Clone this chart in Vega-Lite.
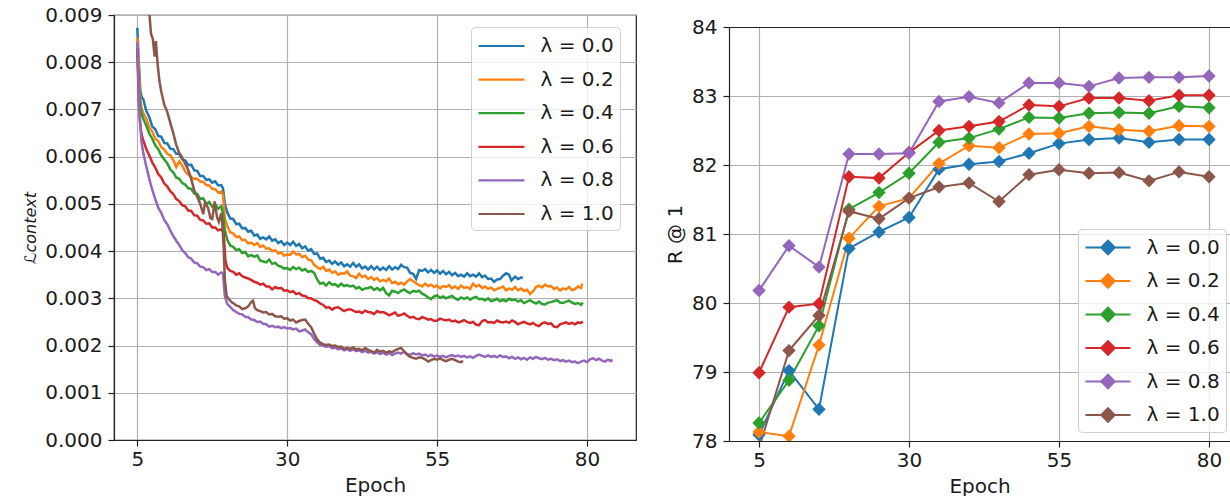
{
"$schema":"https://vega.github.io/schema/vega-lite/v6.json",
"padding":{"left":22,"top":4,"right":0,"bottom":0},
"config":{
"font":"DejaVu Sans",
"view":{"stroke":"#222","strokeWidth":1.2},
"concat":{"spacing":28},
"axis":{"labelFont":"DejaVu Sans","labelFontSize":20,"labelColor":"#1a1a1a","titleFont":"DejaVu Sans","titleFontSize":20,"titleFontWeight":"normal","titleColor":"#1a1a1a","tickColor":"#222","tickSize":6,"tickWidth":1.2,"domainColor":"#222","domainWidth":1.2,"gridColor":"#b0b0b0","gridWidth":1.2,"grid":true,"labelFlush":false,"labelOverlap":false,"titlePadding":6},
"axisX":{"labelPadding":3},
"axisY":{"labelPadding":6},
"legend":{"labelFont":"DejaVu Sans","labelFontSize":20,"labelColor":"#1a1a1a","fillColor":"rgba(255,255,255,0.8)","strokeColor":"#d0d0d0","cornerRadius":4,"padding":6}
},
"datasets":{
"loss":[
{"e":5,"v":0.00873,"s":"0.0"},{"e":5.25,"v":0.008,"s":"0.0"},{"e":5.5,"v":0.00742,"s":"0.0"},{"e":5.75,"v":0.00725,"s":"0.0"},{"e":6,"v":0.00722,"s":"0.0"},{"e":6.5,"v":0.00697,"s":"0.0"},{"e":7,"v":0.00684,"s":"0.0"},{"e":7.5,"v":0.00664,"s":"0.0"},{"e":8,"v":0.00658,"s":"0.0"},{"e":8.5,"v":0.00644,"s":"0.0"},{"e":9,"v":0.00642,"s":"0.0"},{"e":9.5,"v":0.00629,"s":"0.0"},{"e":10,"v":0.00628,"s":"0.0"},{"e":10.5,"v":0.00617,"s":"0.0"},{"e":11,"v":0.00616,"s":"0.0"},{"e":11.5,"v":0.00606,"s":"0.0"},{"e":12,"v":0.00606,"s":"0.0"},{"e":12.5,"v":0.00594,"s":"0.0"},{"e":13,"v":0.00592,"s":"0.0"},{"e":13.5,"v":0.00582,"s":"0.0"},{"e":14,"v":0.00583,"s":"0.0"},{"e":14.5,"v":0.00571,"s":"0.0"},{"e":15,"v":0.0057,"s":"0.0"},{"e":15.5,"v":0.00559,"s":"0.0"},{"e":16,"v":0.00559,"s":"0.0"},{"e":16.5,"v":0.00551,"s":"0.0"},{"e":17,"v":0.00552,"s":"0.0"},{"e":17.5,"v":0.00545,"s":"0.0"},{"e":18,"v":0.00548,"s":"0.0"},{"e":18.5,"v":0.00539,"s":"0.0"},{"e":19,"v":0.0054,"s":"0.0"},{"e":19.3,"v":0.00533,"s":"0.0"},{"e":19.6,"v":0.005,"s":"0.0"},{"e":20,"v":0.00482,"s":"0.0"},{"e":20.5,"v":0.00469,"s":"0.0"},{"e":21,"v":0.00468,"s":"0.0"},{"e":21.5,"v":0.00457,"s":"0.0"},{"e":22,"v":0.00458,"s":"0.0"},{"e":22.5,"v":0.00448,"s":"0.0"},{"e":23,"v":0.00449,"s":"0.0"},{"e":23.5,"v":0.00441,"s":"0.0"},{"e":24,"v":0.00443,"s":"0.0"},{"e":24.5,"v":0.00433,"s":"0.0"},{"e":25,"v":0.00435,"s":"0.0"},{"e":25.5,"v":0.00426,"s":"0.0"},{"e":26,"v":0.00429,"s":"0.0"},{"e":26.5,"v":0.00425,"s":"0.0"},{"e":27,"v":0.00431,"s":"0.0"},{"e":27.5,"v":0.00422,"s":"0.0"},{"e":28,"v":0.00425,"s":"0.0"},{"e":28.5,"v":0.00417,"s":"0.0"},{"e":29,"v":0.00421,"s":"0.0"},{"e":29.5,"v":0.00413,"s":"0.0"},{"e":30,"v":0.00418,"s":"0.0"},{"e":30.5,"v":0.00413,"s":"0.0"},{"e":31,"v":0.0042,"s":"0.0"},{"e":31.5,"v":0.00411,"s":"0.0"},{"e":32,"v":0.00415,"s":"0.0"},{"e":32.5,"v":0.00406,"s":"0.0"},{"e":33,"v":0.0041,"s":"0.0"},{"e":33.5,"v":0.00401,"s":"0.0"},{"e":34,"v":0.00404,"s":"0.0"},{"e":34.5,"v":0.00394,"s":"0.0"},{"e":35,"v":0.00395,"s":"0.0"},{"e":35.5,"v":0.00384,"s":"0.0"},{"e":36,"v":0.00386,"s":"0.0"},{"e":36.5,"v":0.00377,"s":"0.0"},{"e":37,"v":0.0038,"s":"0.0"},{"e":37.5,"v":0.00373,"s":"0.0"},{"e":38,"v":0.00378,"s":"0.0"},{"e":38.5,"v":0.00371,"s":"0.0"},{"e":39,"v":0.00376,"s":"0.0"},{"e":39.5,"v":0.00368,"s":"0.0"},{"e":40,"v":0.00372,"s":"0.0"},{"e":40.5,"v":0.00367,"s":"0.0"},{"e":41,"v":0.00375,"s":"0.0"},{"e":41.5,"v":0.00367,"s":"0.0"},{"e":42,"v":0.00372,"s":"0.0"},{"e":42.5,"v":0.00363,"s":"0.0"},{"e":43,"v":0.00367,"s":"0.0"},{"e":43.5,"v":0.00361,"s":"0.0"},{"e":44,"v":0.00368,"s":"0.0"},{"e":44.5,"v":0.00361,"s":"0.0"},{"e":45,"v":0.00367,"s":"0.0"},{"e":45.5,"v":0.0036,"s":"0.0"},{"e":46,"v":0.00365,"s":"0.0"},{"e":46.5,"v":0.0036,"s":"0.0"},{"e":47,"v":0.00368,"s":"0.0"},{"e":47.5,"v":0.00361,"s":"0.0"},{"e":48,"v":0.00366,"s":"0.0"},{"e":48.5,"v":0.00362,"s":"0.0"},{"e":49,"v":0.00371,"s":"0.0"},{"e":49.5,"v":0.00366,"s":"0.0"},{"e":50,"v":0.00365,"s":"0.0"},{"e":50.5,"v":0.00354,"s":"0.0"},{"e":51,"v":0.00352,"s":"0.0"},{"e":51.5,"v":0.00341,"s":"0.0"},{"e":52,"v":0.0036,"s":"0.0"},{"e":52.5,"v":0.00358,"s":"0.0"},{"e":53,"v":0.00362,"s":"0.0"},{"e":53.5,"v":0.00355,"s":"0.0"},{"e":54,"v":0.0036,"s":"0.0"},{"e":54.5,"v":0.00354,"s":"0.0"},{"e":55,"v":0.00359,"s":"0.0"},{"e":55.5,"v":0.00352,"s":"0.0"},{"e":56,"v":0.00358,"s":"0.0"},{"e":56.5,"v":0.00351,"s":"0.0"},{"e":57,"v":0.00356,"s":"0.0"},{"e":57.5,"v":0.00349,"s":"0.0"},{"e":58,"v":0.00354,"s":"0.0"},{"e":58.5,"v":0.00347,"s":"0.0"},{"e":59,"v":0.0035,"s":"0.0"},{"e":59.5,"v":0.00346,"s":"0.0"},{"e":60,"v":0.00353,"s":"0.0"},{"e":60.5,"v":0.00347,"s":"0.0"},{"e":61,"v":0.0035,"s":"0.0"},{"e":61.5,"v":0.00346,"s":"0.0"},{"e":62,"v":0.00353,"s":"0.0"},{"e":62.5,"v":0.00345,"s":"0.0"},{"e":63,"v":0.00348,"s":"0.0"},{"e":63.5,"v":0.00341,"s":"0.0"},{"e":64,"v":0.00342,"s":"0.0"},{"e":64.5,"v":0.00335,"s":"0.0"},{"e":65,"v":0.0034,"s":"0.0"},{"e":65.5,"v":0.00341,"s":"0.0"},{"e":66,"v":0.00348,"s":"0.0"},{"e":66.5,"v":0.00353,"s":"0.0"},{"e":67,"v":0.0035,"s":"0.0"},{"e":67.4,"v":0.00338,"s":"0.0"},{"e":68,"v":0.00346,"s":"0.0"},{"e":68.5,"v":0.00341,"s":"0.0"},{"e":69,"v":0.00344,"s":"0.0"},{"e":69.3,"v":0.00343,"s":"0.0"},
{"e":5,"v":0.00852,"s":"0.2"},{"e":5.25,"v":0.0079,"s":"0.2"},{"e":5.5,"v":0.00722,"s":"0.2"},{"e":5.75,"v":0.007,"s":"0.2"},{"e":6,"v":0.00692,"s":"0.2"},{"e":6.5,"v":0.00681,"s":"0.2"},{"e":7,"v":0.00662,"s":"0.2"},{"e":7.5,"v":0.00653,"s":"0.2"},{"e":8,"v":0.00638,"s":"0.2"},{"e":8.5,"v":0.00633,"s":"0.2"},{"e":9,"v":0.0062,"s":"0.2"},{"e":9.5,"v":0.00615,"s":"0.2"},{"e":10,"v":0.00606,"s":"0.2"},{"e":10.5,"v":0.00603,"s":"0.2"},{"e":11,"v":0.00593,"s":"0.2"},{"e":11.5,"v":0.00578,"s":"0.2"},{"e":12,"v":0.0059,"s":"0.2"},{"e":12.5,"v":0.00581,"s":"0.2"},{"e":13,"v":0.00569,"s":"0.2"},{"e":13.5,"v":0.00562,"s":"0.2"},{"e":14,"v":0.00557,"s":"0.2"},{"e":14.5,"v":0.00553,"s":"0.2"},{"e":15,"v":0.00553,"s":"0.2"},{"e":15.5,"v":0.00547,"s":"0.2"},{"e":16,"v":0.00547,"s":"0.2"},{"e":16.5,"v":0.0054,"s":"0.2"},{"e":17,"v":0.00539,"s":"0.2"},{"e":17.5,"v":0.00532,"s":"0.2"},{"e":18,"v":0.00531,"s":"0.2"},{"e":18.5,"v":0.00524,"s":"0.2"},{"e":19,"v":0.00526,"s":"0.2"},{"e":19.3,"v":0.00519,"s":"0.2"},{"e":19.6,"v":0.0047,"s":"0.2"},{"e":20,"v":0.00453,"s":"0.2"},{"e":20.5,"v":0.0044,"s":"0.2"},{"e":21,"v":0.00437,"s":"0.2"},{"e":21.5,"v":0.0043,"s":"0.2"},{"e":22,"v":0.00431,"s":"0.2"},{"e":22.5,"v":0.00423,"s":"0.2"},{"e":23,"v":0.00424,"s":"0.2"},{"e":23.5,"v":0.00416,"s":"0.2"},{"e":24,"v":0.00418,"s":"0.2"},{"e":24.5,"v":0.00413,"s":"0.2"},{"e":25,"v":0.00417,"s":"0.2"},{"e":25.5,"v":0.00409,"s":"0.2"},{"e":26,"v":0.00412,"s":"0.2"},{"e":26.5,"v":0.00405,"s":"0.2"},{"e":27,"v":0.00406,"s":"0.2"},{"e":27.5,"v":0.004,"s":"0.2"},{"e":28,"v":0.00402,"s":"0.2"},{"e":28.5,"v":0.00395,"s":"0.2"},{"e":29,"v":0.00397,"s":"0.2"},{"e":29.5,"v":0.0039,"s":"0.2"},{"e":30,"v":0.00393,"s":"0.2"},{"e":30.5,"v":0.00392,"s":"0.2"},{"e":31,"v":0.00399,"s":"0.2"},{"e":31.5,"v":0.00393,"s":"0.2"},{"e":32,"v":0.00394,"s":"0.2"},{"e":32.5,"v":0.00387,"s":"0.2"},{"e":33,"v":0.0039,"s":"0.2"},{"e":33.5,"v":0.00382,"s":"0.2"},{"e":34,"v":0.00381,"s":"0.2"},{"e":34.5,"v":0.00371,"s":"0.2"},{"e":35,"v":0.00366,"s":"0.2"},{"e":35.5,"v":0.00362,"s":"0.2"},{"e":36,"v":0.00367,"s":"0.2"},{"e":36.5,"v":0.00358,"s":"0.2"},{"e":37,"v":0.00361,"s":"0.2"},{"e":37.5,"v":0.00354,"s":"0.2"},{"e":38,"v":0.00357,"s":"0.2"},{"e":38.5,"v":0.0035,"s":"0.2"},{"e":39,"v":0.00353,"s":"0.2"},{"e":39.5,"v":0.00352,"s":"0.2"},{"e":40,"v":0.00357,"s":"0.2"},{"e":40.5,"v":0.00348,"s":"0.2"},{"e":41,"v":0.00347,"s":"0.2"},{"e":41.5,"v":0.00343,"s":"0.2"},{"e":42,"v":0.00352,"s":"0.2"},{"e":42.5,"v":0.00345,"s":"0.2"},{"e":43,"v":0.00348,"s":"0.2"},{"e":43.5,"v":0.00341,"s":"0.2"},{"e":44,"v":0.00345,"s":"0.2"},{"e":44.5,"v":0.00339,"s":"0.2"},{"e":45,"v":0.00343,"s":"0.2"},{"e":45.5,"v":0.00336,"s":"0.2"},{"e":46,"v":0.00339,"s":"0.2"},{"e":46.5,"v":0.00336,"s":"0.2"},{"e":47,"v":0.00342,"s":"0.2"},{"e":47.5,"v":0.00332,"s":"0.2"},{"e":48,"v":0.00335,"s":"0.2"},{"e":48.5,"v":0.0033,"s":"0.2"},{"e":49,"v":0.00333,"s":"0.2"},{"e":49.5,"v":0.00329,"s":"0.2"},{"e":50,"v":0.00336,"s":"0.2"},{"e":50.5,"v":0.00341,"s":"0.2"},{"e":51,"v":0.00336,"s":"0.2"},{"e":51.5,"v":0.00332,"s":"0.2"},{"e":52,"v":0.00328,"s":"0.2"},{"e":52.5,"v":0.00325,"s":"0.2"},{"e":53,"v":0.00331,"s":"0.2"},{"e":53.5,"v":0.00326,"s":"0.2"},{"e":54,"v":0.00329,"s":"0.2"},{"e":54.5,"v":0.00324,"s":"0.2"},{"e":55,"v":0.00327,"s":"0.2"},{"e":55.5,"v":0.00321,"s":"0.2"},{"e":56,"v":0.00326,"s":"0.2"},{"e":56.5,"v":0.00324,"s":"0.2"},{"e":57,"v":0.00328,"s":"0.2"},{"e":57.5,"v":0.00321,"s":"0.2"},{"e":58,"v":0.00325,"s":"0.2"},{"e":58.5,"v":0.0032,"s":"0.2"},{"e":59,"v":0.00327,"s":"0.2"},{"e":59.5,"v":0.00322,"s":"0.2"},{"e":60,"v":0.00324,"s":"0.2"},{"e":60.5,"v":0.0032,"s":"0.2"},{"e":61,"v":0.00331,"s":"0.2"},{"e":61.5,"v":0.00325,"s":"0.2"},{"e":62,"v":0.00328,"s":"0.2"},{"e":62.5,"v":0.00322,"s":"0.2"},{"e":63,"v":0.00325,"s":"0.2"},{"e":63.5,"v":0.0032,"s":"0.2"},{"e":64,"v":0.00323,"s":"0.2"},{"e":64.5,"v":0.00317,"s":"0.2"},{"e":65,"v":0.0032,"s":"0.2"},{"e":65.5,"v":0.00322,"s":"0.2"},{"e":66,"v":0.00325,"s":"0.2"},{"e":66.5,"v":0.00317,"s":"0.2"},{"e":67,"v":0.00321,"s":"0.2"},{"e":67.5,"v":0.00318,"s":"0.2"},{"e":68,"v":0.00324,"s":"0.2"},{"e":68.5,"v":0.00317,"s":"0.2"},{"e":69,"v":0.00321,"s":"0.2"},{"e":69.5,"v":0.00316,"s":"0.2"},{"e":70,"v":0.00318,"s":"0.2"},{"e":70.5,"v":0.00309,"s":"0.2"},{"e":71,"v":0.00315,"s":"0.2"},{"e":71.5,"v":0.00324,"s":"0.2"},{"e":72,"v":0.00327,"s":"0.2"},{"e":72.5,"v":0.00323,"s":"0.2"},{"e":73,"v":0.00329,"s":"0.2"},{"e":73.5,"v":0.00325,"s":"0.2"},{"e":74,"v":0.00326,"s":"0.2"},{"e":74.5,"v":0.0032,"s":"0.2"},{"e":75,"v":0.00323,"s":"0.2"},{"e":75.5,"v":0.00317,"s":"0.2"},{"e":76,"v":0.00321,"s":"0.2"},{"e":76.5,"v":0.00319,"s":"0.2"},{"e":77,"v":0.00324,"s":"0.2"},{"e":77.5,"v":0.00317,"s":"0.2"},{"e":78,"v":0.0032,"s":"0.2"},{"e":78.5,"v":0.00325,"s":"0.2"},{"e":79,"v":0.00322,"s":"0.2"},{"e":79.2,"v":0.00331,"s":"0.2"},
{"e":5,"v":0.0083,"s":"0.4"},{"e":5.25,"v":0.00758,"s":"0.4"},{"e":5.5,"v":0.00708,"s":"0.4"},{"e":5.75,"v":0.0069,"s":"0.4"},{"e":6,"v":0.0068,"s":"0.4"},{"e":6.5,"v":0.00666,"s":"0.4"},{"e":7,"v":0.00649,"s":"0.4"},{"e":7.5,"v":0.00638,"s":"0.4"},{"e":8,"v":0.00624,"s":"0.4"},{"e":8.5,"v":0.00616,"s":"0.4"},{"e":9,"v":0.00603,"s":"0.4"},{"e":9.5,"v":0.00594,"s":"0.4"},{"e":10,"v":0.00586,"s":"0.4"},{"e":10.5,"v":0.00573,"s":"0.4"},{"e":11,"v":0.00567,"s":"0.4"},{"e":11.5,"v":0.00556,"s":"0.4"},{"e":12,"v":0.00553,"s":"0.4"},{"e":12.5,"v":0.00544,"s":"0.4"},{"e":13,"v":0.00541,"s":"0.4"},{"e":13.5,"v":0.00533,"s":"0.4"},{"e":14,"v":0.00532,"s":"0.4"},{"e":14.5,"v":0.00522,"s":"0.4"},{"e":15,"v":0.00521,"s":"0.4"},{"e":15.5,"v":0.0051,"s":"0.4"},{"e":16,"v":0.00512,"s":"0.4"},{"e":16.5,"v":0.005,"s":"0.4"},{"e":17,"v":0.00504,"s":"0.4"},{"e":17.5,"v":0.00494,"s":"0.4"},{"e":18,"v":0.00499,"s":"0.4"},{"e":18.5,"v":0.0049,"s":"0.4"},{"e":19,"v":0.00495,"s":"0.4"},{"e":19.3,"v":0.00478,"s":"0.4"},{"e":19.6,"v":0.00445,"s":"0.4"},{"e":20,"v":0.00424,"s":"0.4"},{"e":20.5,"v":0.00412,"s":"0.4"},{"e":21,"v":0.00409,"s":"0.4"},{"e":21.5,"v":0.00402,"s":"0.4"},{"e":22,"v":0.00404,"s":"0.4"},{"e":22.5,"v":0.00396,"s":"0.4"},{"e":23,"v":0.00398,"s":"0.4"},{"e":23.5,"v":0.00389,"s":"0.4"},{"e":24,"v":0.00392,"s":"0.4"},{"e":24.5,"v":0.00388,"s":"0.4"},{"e":25,"v":0.00391,"s":"0.4"},{"e":25.5,"v":0.0038,"s":"0.4"},{"e":26,"v":0.00378,"s":"0.4"},{"e":26.5,"v":0.00376,"s":"0.4"},{"e":27,"v":0.00382,"s":"0.4"},{"e":27.5,"v":0.00373,"s":"0.4"},{"e":28,"v":0.00375,"s":"0.4"},{"e":28.5,"v":0.00369,"s":"0.4"},{"e":29,"v":0.00367,"s":"0.4"},{"e":29.5,"v":0.00363,"s":"0.4"},{"e":30,"v":0.00364,"s":"0.4"},{"e":30.5,"v":0.0036,"s":"0.4"},{"e":31,"v":0.00366,"s":"0.4"},{"e":31.5,"v":0.00362,"s":"0.4"},{"e":32,"v":0.00365,"s":"0.4"},{"e":32.5,"v":0.00359,"s":"0.4"},{"e":33,"v":0.00362,"s":"0.4"},{"e":33.5,"v":0.00356,"s":"0.4"},{"e":34,"v":0.00358,"s":"0.4"},{"e":34.5,"v":0.00354,"s":"0.4"},{"e":35,"v":0.0034,"s":"0.4"},{"e":35.5,"v":0.00331,"s":"0.4"},{"e":36,"v":0.00333,"s":"0.4"},{"e":36.5,"v":0.00327,"s":"0.4"},{"e":37,"v":0.00334,"s":"0.4"},{"e":37.5,"v":0.00329,"s":"0.4"},{"e":38,"v":0.0033,"s":"0.4"},{"e":38.5,"v":0.00325,"s":"0.4"},{"e":39,"v":0.00331,"s":"0.4"},{"e":39.5,"v":0.00326,"s":"0.4"},{"e":40,"v":0.00328,"s":"0.4"},{"e":40.5,"v":0.00325,"s":"0.4"},{"e":41,"v":0.00327,"s":"0.4"},{"e":41.5,"v":0.00321,"s":"0.4"},{"e":42,"v":0.00324,"s":"0.4"},{"e":42.5,"v":0.00318,"s":"0.4"},{"e":43,"v":0.00321,"s":"0.4"},{"e":43.5,"v":0.00322,"s":"0.4"},{"e":44,"v":0.00324,"s":"0.4"},{"e":44.5,"v":0.00318,"s":"0.4"},{"e":45,"v":0.00322,"s":"0.4"},{"e":45.5,"v":0.00317,"s":"0.4"},{"e":46,"v":0.00322,"s":"0.4"},{"e":46.5,"v":0.00311,"s":"0.4"},{"e":47,"v":0.00306,"s":"0.4"},{"e":47.5,"v":0.00316,"s":"0.4"},{"e":48,"v":0.00314,"s":"0.4"},{"e":48.5,"v":0.00311,"s":"0.4"},{"e":49,"v":0.00316,"s":"0.4"},{"e":49.5,"v":0.00319,"s":"0.4"},{"e":50,"v":0.00314,"s":"0.4"},{"e":50.5,"v":0.00311,"s":"0.4"},{"e":51,"v":0.00316,"s":"0.4"},{"e":51.5,"v":0.00314,"s":"0.4"},{"e":52,"v":0.00316,"s":"0.4"},{"e":52.5,"v":0.0031,"s":"0.4"},{"e":53,"v":0.00307,"s":"0.4"},{"e":53.5,"v":0.00302,"s":"0.4"},{"e":54,"v":0.00298,"s":"0.4"},{"e":54.5,"v":0.00304,"s":"0.4"},{"e":55,"v":0.00306,"s":"0.4"},{"e":55.5,"v":0.00301,"s":"0.4"},{"e":56,"v":0.00304,"s":"0.4"},{"e":56.5,"v":0.003,"s":"0.4"},{"e":57,"v":0.00303,"s":"0.4"},{"e":57.5,"v":0.00305,"s":"0.4"},{"e":58,"v":0.003,"s":"0.4"},{"e":58.5,"v":0.00297,"s":"0.4"},{"e":59,"v":0.00302,"s":"0.4"},{"e":59.5,"v":0.00299,"s":"0.4"},{"e":60,"v":0.00302,"s":"0.4"},{"e":60.5,"v":0.00297,"s":"0.4"},{"e":61,"v":0.00301,"s":"0.4"},{"e":61.5,"v":0.00303,"s":"0.4"},{"e":62,"v":0.00298,"s":"0.4"},{"e":62.5,"v":0.00299,"s":"0.4"},{"e":63,"v":0.00296,"s":"0.4"},{"e":63.5,"v":0.003,"s":"0.4"},{"e":64,"v":0.00294,"s":"0.4"},{"e":64.5,"v":0.00296,"s":"0.4"},{"e":65,"v":0.00299,"s":"0.4"},{"e":65.5,"v":0.00294,"s":"0.4"},{"e":66,"v":0.00297,"s":"0.4"},{"e":66.5,"v":0.00294,"s":"0.4"},{"e":67,"v":0.00299,"s":"0.4"},{"e":67.5,"v":0.00296,"s":"0.4"},{"e":68,"v":0.00298,"s":"0.4"},{"e":68.5,"v":0.00293,"s":"0.4"},{"e":69,"v":0.00296,"s":"0.4"},{"e":69.5,"v":0.0029,"s":"0.4"},{"e":70,"v":0.00293,"s":"0.4"},{"e":70.5,"v":0.00296,"s":"0.4"},{"e":71,"v":0.00292,"s":"0.4"},{"e":71.5,"v":0.00289,"s":"0.4"},{"e":72,"v":0.00293,"s":"0.4"},{"e":72.5,"v":0.00288,"s":"0.4"},{"e":73,"v":0.00287,"s":"0.4"},{"e":73.5,"v":0.00291,"s":"0.4"},{"e":74,"v":0.00292,"s":"0.4"},{"e":74.5,"v":0.00294,"s":"0.4"},{"e":75,"v":0.00296,"s":"0.4"},{"e":75.5,"v":0.00291,"s":"0.4"},{"e":76,"v":0.0029,"s":"0.4"},{"e":76.5,"v":0.00293,"s":"0.4"},{"e":77,"v":0.00295,"s":"0.4"},{"e":77.5,"v":0.00291,"s":"0.4"},{"e":78,"v":0.00288,"s":"0.4"},{"e":78.5,"v":0.0029,"s":"0.4"},{"e":79,"v":0.00286,"s":"0.4"},{"e":79.3,"v":0.00291,"s":"0.4"},
{"e":5,"v":0.0083,"s":"0.6"},{"e":5.25,"v":0.0072,"s":"0.6"},{"e":5.5,"v":0.00665,"s":"0.6"},{"e":5.75,"v":0.00645,"s":"0.6"},{"e":6,"v":0.00635,"s":"0.6"},{"e":6.5,"v":0.00616,"s":"0.6"},{"e":7,"v":0.00603,"s":"0.6"},{"e":7.5,"v":0.00588,"s":"0.6"},{"e":8,"v":0.00577,"s":"0.6"},{"e":8.5,"v":0.00563,"s":"0.6"},{"e":9,"v":0.00556,"s":"0.6"},{"e":9.5,"v":0.00543,"s":"0.6"},{"e":10,"v":0.00537,"s":"0.6"},{"e":10.5,"v":0.00527,"s":"0.6"},{"e":11,"v":0.00521,"s":"0.6"},{"e":11.5,"v":0.0051,"s":"0.6"},{"e":12,"v":0.00506,"s":"0.6"},{"e":12.5,"v":0.00497,"s":"0.6"},{"e":13,"v":0.00495,"s":"0.6"},{"e":13.5,"v":0.00486,"s":"0.6"},{"e":14,"v":0.00485,"s":"0.6"},{"e":14.5,"v":0.00476,"s":"0.6"},{"e":15,"v":0.00475,"s":"0.6"},{"e":15.5,"v":0.00466,"s":"0.6"},{"e":16,"v":0.00465,"s":"0.6"},{"e":16.5,"v":0.00458,"s":"0.6"},{"e":17,"v":0.00459,"s":"0.6"},{"e":17.5,"v":0.0045,"s":"0.6"},{"e":18,"v":0.0045,"s":"0.6"},{"e":18.5,"v":0.00444,"s":"0.6"},{"e":19,"v":0.00446,"s":"0.6"},{"e":19.4,"v":0.0044,"s":"0.6"},{"e":19.7,"v":0.0038,"s":"0.6"},{"e":20,"v":0.00365,"s":"0.6"},{"e":20.5,"v":0.00358,"s":"0.6"},{"e":21,"v":0.00356,"s":"0.6"},{"e":21.5,"v":0.0035,"s":"0.6"},{"e":22,"v":0.00353,"s":"0.6"},{"e":22.5,"v":0.00347,"s":"0.6"},{"e":23,"v":0.00344,"s":"0.6"},{"e":23.5,"v":0.00342,"s":"0.6"},{"e":24,"v":0.00339,"s":"0.6"},{"e":24.5,"v":0.00335,"s":"0.6"},{"e":25,"v":0.00333,"s":"0.6"},{"e":25.5,"v":0.00329,"s":"0.6"},{"e":26,"v":0.00331,"s":"0.6"},{"e":26.5,"v":0.00325,"s":"0.6"},{"e":27,"v":0.00325,"s":"0.6"},{"e":27.5,"v":0.00319,"s":"0.6"},{"e":28,"v":0.00324,"s":"0.6"},{"e":28.5,"v":0.00321,"s":"0.6"},{"e":29,"v":0.00322,"s":"0.6"},{"e":29.5,"v":0.00316,"s":"0.6"},{"e":30,"v":0.00317,"s":"0.6"},{"e":30.5,"v":0.00313,"s":"0.6"},{"e":31,"v":0.00315,"s":"0.6"},{"e":31.5,"v":0.00309,"s":"0.6"},{"e":32,"v":0.00311,"s":"0.6"},{"e":32.5,"v":0.00306,"s":"0.6"},{"e":33,"v":0.00305,"s":"0.6"},{"e":33.5,"v":0.003,"s":"0.6"},{"e":34,"v":0.003,"s":"0.6"},{"e":34.5,"v":0.00296,"s":"0.6"},{"e":35,"v":0.00294,"s":"0.6"},{"e":35.5,"v":0.00289,"s":"0.6"},{"e":36,"v":0.00286,"s":"0.6"},{"e":36.5,"v":0.0028,"s":"0.6"},{"e":37,"v":0.00281,"s":"0.6"},{"e":37.5,"v":0.00276,"s":"0.6"},{"e":38,"v":0.0028,"s":"0.6"},{"e":38.5,"v":0.00281,"s":"0.6"},{"e":39,"v":0.00277,"s":"0.6"},{"e":39.5,"v":0.00273,"s":"0.6"},{"e":40,"v":0.00276,"s":"0.6"},{"e":40.5,"v":0.00277,"s":"0.6"},{"e":41,"v":0.00274,"s":"0.6"},{"e":41.5,"v":0.00271,"s":"0.6"},{"e":42,"v":0.00272,"s":"0.6"},{"e":42.5,"v":0.00269,"s":"0.6"},{"e":43,"v":0.00274,"s":"0.6"},{"e":43.5,"v":0.00271,"s":"0.6"},{"e":44,"v":0.0027,"s":"0.6"},{"e":44.5,"v":0.00267,"s":"0.6"},{"e":45,"v":0.00273,"s":"0.6"},{"e":45.5,"v":0.0027,"s":"0.6"},{"e":46,"v":0.00271,"s":"0.6"},{"e":46.5,"v":0.00268,"s":"0.6"},{"e":47,"v":0.00264,"s":"0.6"},{"e":47.5,"v":0.00267,"s":"0.6"},{"e":48,"v":0.0027,"s":"0.6"},{"e":48.5,"v":0.00263,"s":"0.6"},{"e":49,"v":0.00265,"s":"0.6"},{"e":49.5,"v":0.00268,"s":"0.6"},{"e":50,"v":0.00263,"s":"0.6"},{"e":50.5,"v":0.00259,"s":"0.6"},{"e":51,"v":0.00261,"s":"0.6"},{"e":51.5,"v":0.00257,"s":"0.6"},{"e":52,"v":0.00256,"s":"0.6"},{"e":52.5,"v":0.0026,"s":"0.6"},{"e":53,"v":0.00258,"s":"0.6"},{"e":53.5,"v":0.00255,"s":"0.6"},{"e":54,"v":0.00256,"s":"0.6"},{"e":54.5,"v":0.00252,"s":"0.6"},{"e":55,"v":0.00253,"s":"0.6"},{"e":55.5,"v":0.00257,"s":"0.6"},{"e":56,"v":0.00255,"s":"0.6"},{"e":56.5,"v":0.00253,"s":"0.6"},{"e":57,"v":0.00255,"s":"0.6"},{"e":57.5,"v":0.00251,"s":"0.6"},{"e":58,"v":0.00253,"s":"0.6"},{"e":58.5,"v":0.00249,"s":"0.6"},{"e":59,"v":0.00251,"s":"0.6"},{"e":59.5,"v":0.00254,"s":"0.6"},{"e":60,"v":0.0025,"s":"0.6"},{"e":60.5,"v":0.00248,"s":"0.6"},{"e":61,"v":0.0025,"s":"0.6"},{"e":61.5,"v":0.00244,"s":"0.6"},{"e":62,"v":0.00243,"s":"0.6"},{"e":62.5,"v":0.00252,"s":"0.6"},{"e":63,"v":0.00254,"s":"0.6"},{"e":63.5,"v":0.00249,"s":"0.6"},{"e":64,"v":0.0025,"s":"0.6"},{"e":64.5,"v":0.00248,"s":"0.6"},{"e":65,"v":0.00253,"s":"0.6"},{"e":65.5,"v":0.0025,"s":"0.6"},{"e":66,"v":0.00249,"s":"0.6"},{"e":66.5,"v":0.00251,"s":"0.6"},{"e":67,"v":0.00248,"s":"0.6"},{"e":67.5,"v":0.00253,"s":"0.6"},{"e":68,"v":0.0025,"s":"0.6"},{"e":68.5,"v":0.00245,"s":"0.6"},{"e":69,"v":0.00248,"s":"0.6"},{"e":69.5,"v":0.0025,"s":"0.6"},{"e":70,"v":0.00247,"s":"0.6"},{"e":70.5,"v":0.00245,"s":"0.6"},{"e":71,"v":0.00248,"s":"0.6"},{"e":71.5,"v":0.00243,"s":"0.6"},{"e":72,"v":0.00241,"s":"0.6"},{"e":72.5,"v":0.00247,"s":"0.6"},{"e":73,"v":0.00249,"s":"0.6"},{"e":73.5,"v":0.00246,"s":"0.6"},{"e":74,"v":0.00247,"s":"0.6"},{"e":74.5,"v":0.0024,"s":"0.6"},{"e":75,"v":0.00239,"s":"0.6"},{"e":75.5,"v":0.00245,"s":"0.6"},{"e":76,"v":0.00247,"s":"0.6"},{"e":76.5,"v":0.00249,"s":"0.6"},{"e":77,"v":0.00246,"s":"0.6"},{"e":77.5,"v":0.00248,"s":"0.6"},{"e":78,"v":0.00245,"s":"0.6"},{"e":78.5,"v":0.00249,"s":"0.6"},{"e":79,"v":0.00248,"s":"0.6"},{"e":79.3,"v":0.00251,"s":"0.6"},
{"e":5,"v":0.00842,"s":"0.8"},{"e":5.2,"v":0.00758,"s":"0.8"},{"e":5.4,"v":0.00688,"s":"0.8"},{"e":5.7,"v":0.00632,"s":"0.8"},{"e":6,"v":0.00608,"s":"0.8"},{"e":6.5,"v":0.0058,"s":"0.8"},{"e":7,"v":0.00553,"s":"0.8"},{"e":7.5,"v":0.0053,"s":"0.8"},{"e":8,"v":0.0051,"s":"0.8"},{"e":8.5,"v":0.00492,"s":"0.8"},{"e":9,"v":0.00481,"s":"0.8"},{"e":9.5,"v":0.00466,"s":"0.8"},{"e":10,"v":0.00457,"s":"0.8"},{"e":10.5,"v":0.00444,"s":"0.8"},{"e":11,"v":0.00432,"s":"0.8"},{"e":11.5,"v":0.00422,"s":"0.8"},{"e":12,"v":0.00413,"s":"0.8"},{"e":12.5,"v":0.00402,"s":"0.8"},{"e":13,"v":0.00396,"s":"0.8"},{"e":13.5,"v":0.00387,"s":"0.8"},{"e":14,"v":0.00384,"s":"0.8"},{"e":14.5,"v":0.00376,"s":"0.8"},{"e":15,"v":0.00374,"s":"0.8"},{"e":15.5,"v":0.00367,"s":"0.8"},{"e":16,"v":0.00366,"s":"0.8"},{"e":16.5,"v":0.0036,"s":"0.8"},{"e":17,"v":0.00362,"s":"0.8"},{"e":17.5,"v":0.00356,"s":"0.8"},{"e":18,"v":0.00356,"s":"0.8"},{"e":18.5,"v":0.0035,"s":"0.8"},{"e":19,"v":0.00355,"s":"0.8"},{"e":19.3,"v":0.00353,"s":"0.8"},{"e":19.6,"v":0.00305,"s":"0.8"},{"e":20,"v":0.00288,"s":"0.8"},{"e":20.5,"v":0.00282,"s":"0.8"},{"e":21,"v":0.00275,"s":"0.8"},{"e":21.5,"v":0.00271,"s":"0.8"},{"e":22,"v":0.00267,"s":"0.8"},{"e":22.5,"v":0.00266,"s":"0.8"},{"e":23,"v":0.00261,"s":"0.8"},{"e":23.5,"v":0.0026,"s":"0.8"},{"e":24,"v":0.00255,"s":"0.8"},{"e":24.5,"v":0.00254,"s":"0.8"},{"e":25,"v":0.0025,"s":"0.8"},{"e":25.5,"v":0.00251,"s":"0.8"},{"e":26,"v":0.00246,"s":"0.8"},{"e":26.5,"v":0.00245,"s":"0.8"},{"e":27,"v":0.0024,"s":"0.8"},{"e":27.5,"v":0.00242,"s":"0.8"},{"e":28,"v":0.00239,"s":"0.8"},{"e":28.5,"v":0.0024,"s":"0.8"},{"e":29,"v":0.00237,"s":"0.8"},{"e":29.5,"v":0.00239,"s":"0.8"},{"e":30,"v":0.00236,"s":"0.8"},{"e":30.5,"v":0.00237,"s":"0.8"},{"e":31,"v":0.00234,"s":"0.8"},{"e":31.5,"v":0.00236,"s":"0.8"},{"e":32,"v":0.0023,"s":"0.8"},{"e":32.5,"v":0.00232,"s":"0.8"},{"e":33,"v":0.00234,"s":"0.8"},{"e":33.5,"v":0.00228,"s":"0.8"},{"e":34,"v":0.00224,"s":"0.8"},{"e":34.5,"v":0.00214,"s":"0.8"},{"e":35,"v":0.00207,"s":"0.8"},{"e":35.5,"v":0.00201,"s":"0.8"},{"e":36,"v":0.002,"s":"0.8"},{"e":36.5,"v":0.00197,"s":"0.8"},{"e":37,"v":0.00199,"s":"0.8"},{"e":37.5,"v":0.00194,"s":"0.8"},{"e":38,"v":0.00196,"s":"0.8"},{"e":38.5,"v":0.00192,"s":"0.8"},{"e":39,"v":0.00194,"s":"0.8"},{"e":39.5,"v":0.0019,"s":"0.8"},{"e":40,"v":0.00193,"s":"0.8"},{"e":40.5,"v":0.00189,"s":"0.8"},{"e":41,"v":0.00192,"s":"0.8"},{"e":41.5,"v":0.00188,"s":"0.8"},{"e":42,"v":0.0019,"s":"0.8"},{"e":42.5,"v":0.00186,"s":"0.8"},{"e":43,"v":0.00189,"s":"0.8"},{"e":43.5,"v":0.00185,"s":"0.8"},{"e":44,"v":0.00187,"s":"0.8"},{"e":44.5,"v":0.00183,"s":"0.8"},{"e":45,"v":0.00186,"s":"0.8"},{"e":45.5,"v":0.00182,"s":"0.8"},{"e":46,"v":0.00185,"s":"0.8"},{"e":46.5,"v":0.00181,"s":"0.8"},{"e":47,"v":0.00184,"s":"0.8"},{"e":47.5,"v":0.0018,"s":"0.8"},{"e":48,"v":0.00183,"s":"0.8"},{"e":48.5,"v":0.00185,"s":"0.8"},{"e":49,"v":0.00183,"s":"0.8"},{"e":49.5,"v":0.00187,"s":"0.8"},{"e":50,"v":0.00182,"s":"0.8"},{"e":50.5,"v":0.0018,"s":"0.8"},{"e":51,"v":0.00184,"s":"0.8"},{"e":51.5,"v":0.00181,"s":"0.8"},{"e":52,"v":0.00183,"s":"0.8"},{"e":52.5,"v":0.00179,"s":"0.8"},{"e":53,"v":0.00181,"s":"0.8"},{"e":53.5,"v":0.00177,"s":"0.8"},{"e":54,"v":0.0018,"s":"0.8"},{"e":54.5,"v":0.00177,"s":"0.8"},{"e":55,"v":0.00179,"s":"0.8"},{"e":55.5,"v":0.00176,"s":"0.8"},{"e":56,"v":0.00178,"s":"0.8"},{"e":56.5,"v":0.00175,"s":"0.8"},{"e":57,"v":0.00178,"s":"0.8"},{"e":57.5,"v":0.0018,"s":"0.8"},{"e":58,"v":0.00177,"s":"0.8"},{"e":58.5,"v":0.00179,"s":"0.8"},{"e":59,"v":0.00176,"s":"0.8"},{"e":59.5,"v":0.00178,"s":"0.8"},{"e":60,"v":0.00175,"s":"0.8"},{"e":60.5,"v":0.00177,"s":"0.8"},{"e":61,"v":0.00174,"s":"0.8"},{"e":61.5,"v":0.00178,"s":"0.8"},{"e":62,"v":0.00181,"s":"0.8"},{"e":62.5,"v":0.00178,"s":"0.8"},{"e":63,"v":0.00176,"s":"0.8"},{"e":63.5,"v":0.00179,"s":"0.8"},{"e":64,"v":0.00176,"s":"0.8"},{"e":64.5,"v":0.00178,"s":"0.8"},{"e":65,"v":0.00175,"s":"0.8"},{"e":65.5,"v":0.00179,"s":"0.8"},{"e":66,"v":0.00176,"s":"0.8"},{"e":66.5,"v":0.00177,"s":"0.8"},{"e":67,"v":0.00173,"s":"0.8"},{"e":67.5,"v":0.00176,"s":"0.8"},{"e":68,"v":0.00172,"s":"0.8"},{"e":68.5,"v":0.00175,"s":"0.8"},{"e":69,"v":0.00171,"s":"0.8"},{"e":69.5,"v":0.00174,"s":"0.8"},{"e":70,"v":0.0017,"s":"0.8"},{"e":70.5,"v":0.00175,"s":"0.8"},{"e":71,"v":0.00172,"s":"0.8"},{"e":71.5,"v":0.00176,"s":"0.8"},{"e":72,"v":0.00173,"s":"0.8"},{"e":72.5,"v":0.00171,"s":"0.8"},{"e":73,"v":0.00174,"s":"0.8"},{"e":73.5,"v":0.0017,"s":"0.8"},{"e":74,"v":0.00172,"s":"0.8"},{"e":74.5,"v":0.00169,"s":"0.8"},{"e":75,"v":0.00171,"s":"0.8"},{"e":75.5,"v":0.00167,"s":"0.8"},{"e":76,"v":0.00169,"s":"0.8"},{"e":76.5,"v":0.00166,"s":"0.8"},{"e":77,"v":0.00168,"s":"0.8"},{"e":77.5,"v":0.00165,"s":"0.8"},{"e":78,"v":0.00166,"s":"0.8"},{"e":78.5,"v":0.00163,"s":"0.8"},{"e":79,"v":0.00166,"s":"0.8"},{"e":79.5,"v":0.00168,"s":"0.8"},{"e":80,"v":0.00165,"s":"0.8"},{"e":80.5,"v":0.00171,"s":"0.8"},{"e":81,"v":0.00173,"s":"0.8"},{"e":81.5,"v":0.00169,"s":"0.8"},{"e":82,"v":0.00172,"s":"0.8"},{"e":82.5,"v":0.00168,"s":"0.8"},{"e":83,"v":0.00166,"s":"0.8"},{"e":83.5,"v":0.0017,"s":"0.8"},{"e":84,"v":0.00167,"s":"0.8"},{"e":84.2,"v":0.00171,"s":"0.8"},
{"e":5,"v":0.012,"s":"1.0"},{"e":5.5,"v":0.0112,"s":"1.0"},{"e":6,"v":0.0104,"s":"1.0"},{"e":6.5,"v":0.0096,"s":"1.0"},{"e":7,"v":0.00905,"s":"1.0"},{"e":7.3,"v":0.0086,"s":"1.0"},{"e":7.6,"v":0.00849,"s":"1.0"},{"e":7.9,"v":0.00812,"s":"1.0"},{"e":8.1,"v":0.00845,"s":"1.0"},{"e":8.4,"v":0.00795,"s":"1.0"},{"e":8.7,"v":0.0076,"s":"1.0"},{"e":9,"v":0.00738,"s":"1.0"},{"e":9.5,"v":0.0071,"s":"1.0"},{"e":10,"v":0.00695,"s":"1.0"},{"e":10.5,"v":0.00672,"s":"1.0"},{"e":11,"v":0.0065,"s":"1.0"},{"e":11.5,"v":0.00625,"s":"1.0"},{"e":12,"v":0.00608,"s":"1.0"},{"e":12.5,"v":0.00598,"s":"1.0"},{"e":13,"v":0.00585,"s":"1.0"},{"e":13.5,"v":0.00572,"s":"1.0"},{"e":14,"v":0.00553,"s":"1.0"},{"e":14.5,"v":0.00528,"s":"1.0"},{"e":15,"v":0.00515,"s":"1.0"},{"e":15.5,"v":0.005,"s":"1.0"},{"e":16,"v":0.00478,"s":"1.0"},{"e":16.3,"v":0.00503,"s":"1.0"},{"e":16.8,"v":0.00492,"s":"1.0"},{"e":17.2,"v":0.0047,"s":"1.0"},{"e":17.5,"v":0.00468,"s":"1.0"},{"e":17.9,"v":0.00505,"s":"1.0"},{"e":18.3,"v":0.00472,"s":"1.0"},{"e":18.6,"v":0.00462,"s":"1.0"},{"e":19,"v":0.0048,"s":"1.0"},{"e":19.2,"v":0.00455,"s":"1.0"},{"e":19.4,"v":0.0041,"s":"1.0"},{"e":19.6,"v":0.0034,"s":"1.0"},{"e":19.9,"v":0.00305,"s":"1.0"},{"e":20.3,"v":0.00298,"s":"1.0"},{"e":20.7,"v":0.00292,"s":"1.0"},{"e":21,"v":0.0029,"s":"1.0"},{"e":21.5,"v":0.00285,"s":"1.0"},{"e":22,"v":0.00283,"s":"1.0"},{"e":22.5,"v":0.00277,"s":"1.0"},{"e":23,"v":0.00279,"s":"1.0"},{"e":23.5,"v":0.00283,"s":"1.0"},{"e":24,"v":0.00292,"s":"1.0"},{"e":24.3,"v":0.00295,"s":"1.0"},{"e":24.6,"v":0.0028,"s":"1.0"},{"e":25,"v":0.00275,"s":"1.0"},{"e":25.5,"v":0.00273,"s":"1.0"},{"e":26,"v":0.0027,"s":"1.0"},{"e":26.5,"v":0.00271,"s":"1.0"},{"e":27,"v":0.00266,"s":"1.0"},{"e":27.5,"v":0.00267,"s":"1.0"},{"e":28,"v":0.00262,"s":"1.0"},{"e":28.5,"v":0.00261,"s":"1.0"},{"e":29,"v":0.00262,"s":"1.0"},{"e":29.5,"v":0.00257,"s":"1.0"},{"e":30,"v":0.00258,"s":"1.0"},{"e":30.5,"v":0.00253,"s":"1.0"},{"e":31,"v":0.00255,"s":"1.0"},{"e":31.5,"v":0.00249,"s":"1.0"},{"e":32,"v":0.00252,"s":"1.0"},{"e":32.5,"v":0.00254,"s":"1.0"},{"e":33,"v":0.00255,"s":"1.0"},{"e":33.5,"v":0.00246,"s":"1.0"},{"e":34,"v":0.00239,"s":"1.0"},{"e":34.5,"v":0.00225,"s":"1.0"},{"e":35,"v":0.00213,"s":"1.0"},{"e":35.5,"v":0.00206,"s":"1.0"},{"e":36,"v":0.00203,"s":"1.0"},{"e":36.5,"v":0.00201,"s":"1.0"},{"e":37,"v":0.00202,"s":"1.0"},{"e":37.5,"v":0.00199,"s":"1.0"},{"e":38,"v":0.002,"s":"1.0"},{"e":38.5,"v":0.00197,"s":"1.0"},{"e":39,"v":0.00198,"s":"1.0"},{"e":39.5,"v":0.00193,"s":"1.0"},{"e":40,"v":0.00195,"s":"1.0"},{"e":40.5,"v":0.00193,"s":"1.0"},{"e":41,"v":0.00196,"s":"1.0"},{"e":41.5,"v":0.00192,"s":"1.0"},{"e":42,"v":0.00193,"s":"1.0"},{"e":42.5,"v":0.0019,"s":"1.0"},{"e":43,"v":0.00195,"s":"1.0"},{"e":43.5,"v":0.00191,"s":"1.0"},{"e":44,"v":0.00188,"s":"1.0"},{"e":44.5,"v":0.00185,"s":"1.0"},{"e":45,"v":0.00191,"s":"1.0"},{"e":45.5,"v":0.00187,"s":"1.0"},{"e":46,"v":0.00189,"s":"1.0"},{"e":46.5,"v":0.00185,"s":"1.0"},{"e":47,"v":0.00188,"s":"1.0"},{"e":47.5,"v":0.00186,"s":"1.0"},{"e":48,"v":0.0019,"s":"1.0"},{"e":48.5,"v":0.00193,"s":"1.0"},{"e":49,"v":0.00195,"s":"1.0"},{"e":49.5,"v":0.00188,"s":"1.0"},{"e":50,"v":0.00181,"s":"1.0"},{"e":50.5,"v":0.00176,"s":"1.0"},{"e":51,"v":0.00174,"s":"1.0"},{"e":51.5,"v":0.00172,"s":"1.0"},{"e":52,"v":0.00175,"s":"1.0"},{"e":52.5,"v":0.00174,"s":"1.0"},{"e":53,"v":0.00171,"s":"1.0"},{"e":53.5,"v":0.00166,"s":"1.0"},{"e":54,"v":0.00169,"s":"1.0"},{"e":54.5,"v":0.00172,"s":"1.0"},{"e":55,"v":0.0017,"s":"1.0"},{"e":55.5,"v":0.00173,"s":"1.0"},{"e":56,"v":0.00169,"s":"1.0"},{"e":56.5,"v":0.00167,"s":"1.0"},{"e":57,"v":0.0017,"s":"1.0"},{"e":57.5,"v":0.00172,"s":"1.0"},{"e":58,"v":0.00169,"s":"1.0"},{"e":58.5,"v":0.00166,"s":"1.0"},{"e":59,"v":0.00165,"s":"1.0"},{"e":59.3,"v":0.00168,"s":"1.0"}
],
"r1":[
{"e":5,"r":78.09,"s":"0.0"},{"e":10,"r":79.02,"s":"0.0"},{"e":15,"r":78.46,"s":"0.0"},{"e":20,"r":80.79,"s":"0.0"},{"e":25,"r":81.03,"s":"0.0"},{"e":30,"r":81.24,"s":"0.0"},{"e":35,"r":81.94,"s":"0.0"},{"e":40,"r":82.01,"s":"0.0"},{"e":45,"r":82.05,"s":"0.0"},{"e":50,"r":82.17,"s":"0.0"},{"e":55,"r":82.31,"s":"0.0"},{"e":60,"r":82.37,"s":"0.0"},{"e":65,"r":82.39,"s":"0.0"},{"e":70,"r":82.33,"s":"0.0"},{"e":75,"r":82.37,"s":"0.0"},{"e":80,"r":82.37,"s":"0.0"},
{"e":5,"r":78.13,"s":"0.2"},{"e":10,"r":78.07,"s":"0.2"},{"e":15,"r":79.39,"s":"0.2"},{"e":20,"r":80.94,"s":"0.2"},{"e":25,"r":81.4,"s":"0.2"},{"e":30,"r":81.52,"s":"0.2"},{"e":35,"r":82.02,"s":"0.2"},{"e":40,"r":82.28,"s":"0.2"},{"e":45,"r":82.25,"s":"0.2"},{"e":50,"r":82.45,"s":"0.2"},{"e":55,"r":82.46,"s":"0.2"},{"e":60,"r":82.56,"s":"0.2"},{"e":65,"r":82.51,"s":"0.2"},{"e":70,"r":82.49,"s":"0.2"},{"e":75,"r":82.57,"s":"0.2"},{"e":80,"r":82.56,"s":"0.2"},
{"e":5,"r":78.26,"s":"0.4"},{"e":10,"r":78.88,"s":"0.4"},{"e":15,"r":79.67,"s":"0.4"},{"e":20,"r":81.36,"s":"0.4"},{"e":25,"r":81.6,"s":"0.4"},{"e":30,"r":81.88,"s":"0.4"},{"e":35,"r":82.33,"s":"0.4"},{"e":40,"r":82.39,"s":"0.4"},{"e":45,"r":82.52,"s":"0.4"},{"e":50,"r":82.69,"s":"0.4"},{"e":55,"r":82.68,"s":"0.4"},{"e":60,"r":82.75,"s":"0.4"},{"e":65,"r":82.76,"s":"0.4"},{"e":70,"r":82.75,"s":"0.4"},{"e":75,"r":82.85,"s":"0.4"},{"e":80,"r":82.83,"s":"0.4"},
{"e":5,"r":78.99,"s":"0.6"},{"e":10,"r":79.94,"s":"0.6"},{"e":15,"r":79.99,"s":"0.6"},{"e":20,"r":81.83,"s":"0.6"},{"e":25,"r":81.81,"s":"0.6"},{"e":30,"r":82.18,"s":"0.6"},{"e":35,"r":82.5,"s":"0.6"},{"e":40,"r":82.56,"s":"0.6"},{"e":45,"r":82.63,"s":"0.6"},{"e":50,"r":82.87,"s":"0.6"},{"e":55,"r":82.85,"s":"0.6"},{"e":60,"r":82.97,"s":"0.6"},{"e":65,"r":82.97,"s":"0.6"},{"e":70,"r":82.93,"s":"0.6"},{"e":75,"r":83.01,"s":"0.6"},{"e":80,"r":83.01,"s":"0.6"},
{"e":5,"r":80.18,"s":"0.8"},{"e":10,"r":80.83,"s":"0.8"},{"e":15,"r":80.52,"s":"0.8"},{"e":20,"r":82.16,"s":"0.8"},{"e":25,"r":82.16,"s":"0.8"},{"e":30,"r":82.17,"s":"0.8"},{"e":35,"r":82.92,"s":"0.8"},{"e":40,"r":82.99,"s":"0.8"},{"e":45,"r":82.9,"s":"0.8"},{"e":50,"r":83.19,"s":"0.8"},{"e":55,"r":83.19,"s":"0.8"},{"e":60,"r":83.14,"s":"0.8"},{"e":65,"r":83.26,"s":"0.8"},{"e":70,"r":83.27,"s":"0.8"},{"e":75,"r":83.27,"s":"0.8"},{"e":80,"r":83.29,"s":"0.8"},
{"e":5,"r":77.9,"s":"1.0"},{"e":10,"r":79.31,"s":"1.0"},{"e":15,"r":79.82,"s":"1.0"},{"e":20,"r":81.33,"s":"1.0"},{"e":25,"r":81.22,"s":"1.0"},{"e":30,"r":81.52,"s":"1.0"},{"e":35,"r":81.68,"s":"1.0"},{"e":40,"r":81.74,"s":"1.0"},{"e":45,"r":81.47,"s":"1.0"},{"e":50,"r":81.86,"s":"1.0"},{"e":55,"r":81.93,"s":"1.0"},{"e":60,"r":81.88,"s":"1.0"},{"e":65,"r":81.89,"s":"1.0"},{"e":70,"r":81.77,"s":"1.0"},{"e":75,"r":81.9,"s":"1.0"},{"e":80,"r":81.83,"s":"1.0"}
]
},
"resolve":{"legend":{"color":"independent"}},
"hconcat":[
{
"width":522,"height":425,
"data":{"name":"loss"},
"mark":{"type":"line","strokeWidth":2.5,"clip":true},
"encoding":{
"x":{"field":"e","type":"quantitative","scale":{"domain":[1.12,88.17],"nice":false,"zero":false},"axis":{"values":[5,30,55,80],"title":"Epoch"}},
"y":{"field":"v","type":"quantitative","scale":{"domain":[0,0.009],"nice":false},"axis":{"values":[0,0.001,0.002,0.003,0.004,0.005,0.006,0.007,0.008,0.009],"format":".3f","title":"ℒcontext","titleFontStyle":"italic","titleFontSize":16}},
"color":{"field":"s","type":"nominal","scale":{"domain":["0.0","0.2","0.4","0.6","0.8","1.0"],"range":["#1f77b4","#ff7f0e","#2ca02c","#d62728","#9467bd","#8c564b"]},
"legend":{"orient":"none","legendX":357,"legendY":12,"title":null,"labelExpr":"'λ = ' + datum.label","symbolType":"M-2,0H2","symbolSize":529,"symbolStrokeWidth":2.2,"symbolOffset":11.5,"labelOffset":26,"rowPadding":10.6}}
}
},
{
"spacing":1,
"resolve":{"legend":{"color":"independent"}},
"vconcat":[
{"width":501,"height":1,"data":{"values":[]},"mark":"point","encoding":{},"view":{"stroke":null}},
{
"width":501,"height":414,
"data":{"name":"r1"},
"view":{"stroke":null},
"mark":{"type":"line","strokeWidth":2,"clip":true,"point":{"shape":"diamond","filled":true,"size":180}},
"encoding":{
"x":{"field":"e","type":"quantitative","scale":{"domain":[0,83.5],"nice":false,"zero":false},"axis":{"values":[5,30,55,80],"title":"Epoch"}},
"y":{"field":"r","type":"quantitative","scale":{"domain":[78,84],"nice":false,"zero":false},"axis":{"values":[78,79,80,81,82,83,84],"format":"d","title":"R @ 1","gridColor":{"condition":{"test":"datum.value === 84","value":"#222"},"value":"#b0b0b0"}}},
"color":{"field":"s","type":"nominal","scale":{"domain":["0.0","0.2","0.4","0.6","0.8","1.0"],"range":["#1f77b4","#ff7f0e","#2ca02c","#d62728","#9467bd","#8c564b"]},
"legend":{"orient":"none","legendX":349,"legendY":202,"title":null,"labelExpr":"'λ = ' + datum.label","symbolType":"M-2,0H2M-0.6,0L0,-0.6L0.6,0L0,0.6ZM-0.45,0L0,-0.45L0.45,0L0,0.45ZM-0.3,0L0,-0.3L0.3,0L0,0.3ZM-0.15,0L0,-0.15L0.15,0L0,0.15Z","symbolSize":506,"symbolStrokeWidth":2,"symbolOffset":11.5,"labelOffset":26,"rowPadding":9.5}}
}
}
]
}
]
}
